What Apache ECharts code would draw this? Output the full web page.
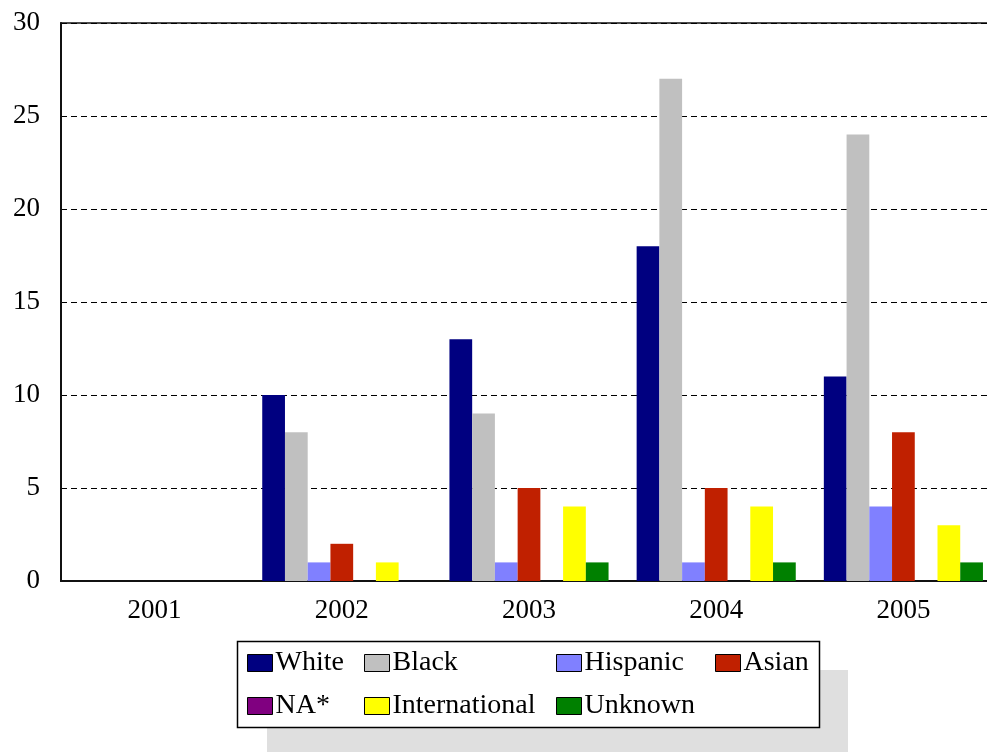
<!DOCTYPE html>
<html>
<head>
<meta charset="utf-8">
<script src="https://cdn.jsdelivr.net/npm/echarts@6/dist/echarts.min.js"></script>
<style>html,body{margin:0;padding:0;background:#fff}#c{width:987px;height:752px}</style>
</head>
<body>
<div id="c"></div>
<script>
const categories = ['2001', '2002', '2003', '2004', '2005'];
const seriesNames = ['White', 'Black', 'Hispanic', 'Asian', 'NA*', 'International', 'Unknown'];
const white = [0, 10, 13, 18, 11];
const black = [0, 8, 9, 27, 24];
const hispanic = [0, 1, 1, 1, 4];
const asian = [0, 2, 5, 5, 8];
const na = [0, 0, 0, 0, 0];
const international = [0, 1, 4, 4, 3];
const unknown = [0, 0, 1, 1, 1];
const yTicks = [0, 5, 10, 15, 20, 25, 30];

const values = [white, black, hispanic, asian, na, international, unknown];
const colors = ['#000080', '#C0C0C0', '#8080FF', '#C02000', '#800080', '#FFFF00', '#008000'];
const FONT = 'Liberation Serif';

// legend item positions (icon left, row top)
const legendPos = [
  [247, 648], [364, 648], [556, 648], [715, 648],
  [247, 691], [364, 691], [556, 691]
];

const chart = echarts.init(document.getElementById('c'), null, {renderer: 'canvas'});
chart.setOption({
  animation: false,
  backgroundColor: '#fff',
  graphic: [
    {type: 'rect', z: 0, shape: {x: 267, y: 670, width: 581, height: 90}, style: {fill: '#DFDFDF'}},
    {type: 'rect', z: 1, shape: {x: 237.5, y: 641.5, width: 582, height: 86}, style: {fill: '#fff', stroke: '#000', lineWidth: 1.5}}
  ],
  grid: {left: 61, width: 936, top: 23, bottom: 171, outerBoundsMode: 'none', containLabel: false,
    show: true, borderColor: '#111', borderWidth: 1.5, backgroundColor: 'transparent'},
  legend: seriesNames.map((n, i) => ({
    data: [n], left: legendPos[i][0], top: legendPos[i][1], padding: 0, z: 5,
    icon: 'rect', itemWidth: 25, itemHeight: 17, itemGap: 0,
    itemStyle: {borderColor: '#000', borderWidth: 1},
    textStyle: {fontFamily: FONT, fontSize: 28, color: '#000', lineHeight: 30, padding: [0, 0, 0, -2]},
    selectedMode: false
  })),
  xAxis: {
    type: 'category', data: categories,
    axisLine: {lineStyle: {color: '#111', width: 2}},
    axisTick: {show: false},
    axisLabel: {fontFamily: FONT, fontSize: 27, color: '#000', margin: 16},
    splitLine: {show: false}
  },
  yAxis: {
    type: 'value', min: 0, max: 30, interval: 5,
    axisLine: {show: true, lineStyle: {color: '#111', width: 2}},
    axisTick: {show: false},
    axisLabel: {fontFamily: FONT, fontSize: 27, color: '#000', margin: 21,
      formatter: v => yTicks.includes(v) ? String(v) : ''},
    splitLine: {show: true, lineStyle: {color: '#000', width: 1, type: [6, 4]}}
  },
  series: seriesNames.map((n, i) => ({
    name: n, type: 'bar', data: values[i],
    barGap: '0%', barCategoryGap: '15%',
    itemStyle: {color: colors[i]}
  }))
});
</script>
</body>
</html>
